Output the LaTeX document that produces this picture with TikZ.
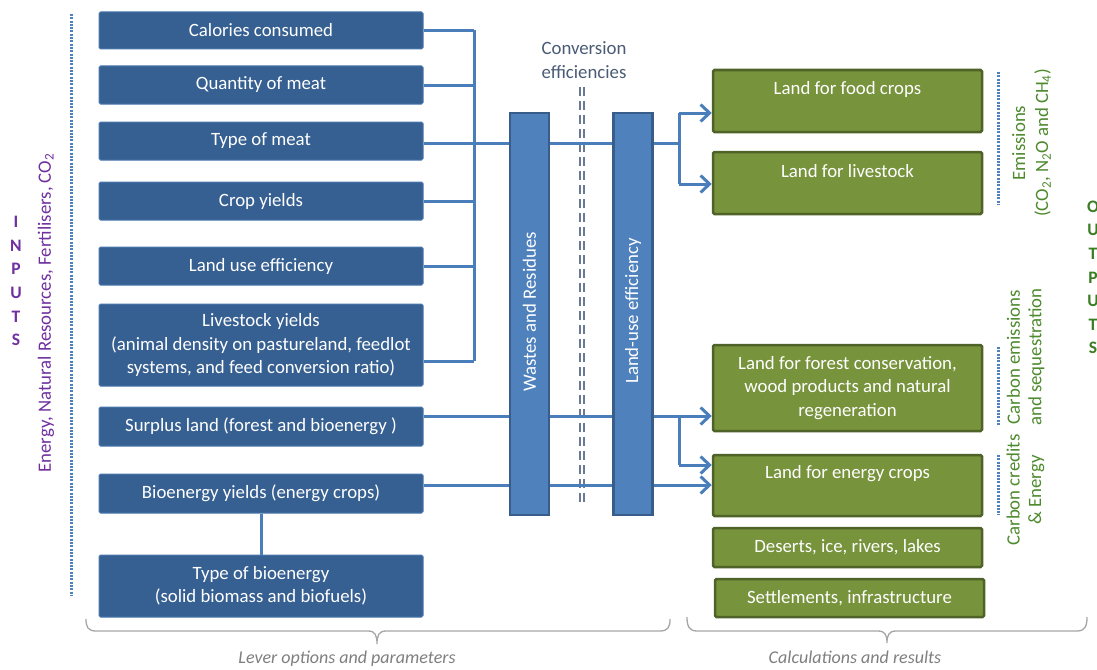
\documentclass[tikz,border=0pt]{standalone}
\usepackage{fontspec}
\setmainfont{Carlito}
\usetikzlibrary{arrows.meta}
\definecolor{lblue}{HTML}{376092}
\definecolor{lbord}{HTML}{4A78B0}
\definecolor{barfill}{HTML}{4F81BD}
\definecolor{barbord}{HTML}{385D8A}
\definecolor{connc}{HTML}{4A7EBB}
\definecolor{gfill}{HTML}{77933C}
\definecolor{gbord}{HTML}{4F6228}
\definecolor{dotc}{HTML}{4F81BD}
\definecolor{purp}{HTML}{7030A0}
\definecolor{outg}{HTML}{3A7D22}
\definecolor{labg}{HTML}{4E8A2E}
\definecolor{convc}{HTML}{4A5B75}
\definecolor{brc}{HTML}{A6A6A6}
\definecolor{brt}{HTML}{7F7F7F}
\definecolor{dashc}{HTML}{6A7A94}
\newcommand\fsA{\fontsize{18.8}{23.5}\selectfont}
\newcommand\fsB{\fontsize{18.8}{21.5}\selectfont}
\newcommand\fsL{\fontsize{17.5}{23.6}\selectfont\bfseries}
\begin{document}
\begin{tikzpicture}[x=1pt,y=-1pt,
  lbox/.style={draw=lbord, fill=lblue, line width=1pt, rounded corners=1.5pt, text=white,
    minimum width=324pt, align=center, font=\fsA, inner sep=0pt},
  gbox/.style={draw=gbord, fill=gfill, line width=2.5pt, rounded corners=1.5pt, text=white,
    minimum width=269pt, align=center, font=\fsA, inner sep=0pt},
  gtext/.style={text=white, align=center, font=\fsA, inner sep=0pt},
  barbox/.style={draw=barbord, fill=barfill, line width=2.5pt, minimum width=39pt, minimum height=402pt, inner sep=0pt},
  bartext/.style={rotate=90, text=white, font=\fsA, inner sep=0pt},
  conn/.style={draw=connc, line width=3pt},
  arr/.style={draw=connc, line width=3pt, -{Straight Barb[length=9pt,width=17pt,line width=3pt]}},
  dots/.style={draw=dotc, line width=3pt, dash pattern=on 2pt off 1.3pt},
  sepline/.style={draw=dashc, line width=1.2pt, dash pattern=on 9pt off 5pt},
  sidetext/.style={rotate=90, text=labg, align=center, font=\fsB, inner sep=0pt},
  brace/.style={draw=brc, line width=1.3pt},
  bracetext/.style={text=brt, font=\fontsize{18}{22}\selectfont\itshape, inner sep=0pt}
]
\useasboundingbox (0,0) rectangle (1097,669);
\clip (0,0) rectangle (1097,669);
\fill[white] (0,0) rectangle (1097,669);

% left boxes
\node[lbox, minimum height=37pt] (cal) at (261,30.5) {Calories consumed};
\node[lbox, minimum height=38pt] (qty) at (261,85) {Quantity of meat};
\node[lbox, minimum height=38pt] (tom) at (261,141) {Type of meat};
\node[lbox, minimum height=38pt] (crop) at (261,201) {Crop yields};
\node[lbox, minimum height=38pt] (luse) at (261,266) {Land use efficiency};
\node[lbox, minimum height=82pt] (live) at (261,345) {Livestock yields\\(animal density on pastureland, feedlot\\systems, and feed conversion ratio)};
\node[lbox, minimum height=39pt] (surp) at (261,426.5) {Surplus land (forest and bioenergy )};
\node[lbox, minimum height=39pt] (bio) at (261,493.5) {Bioenergy yields (energy crops)};
\node[lbox, minimum height=62pt] (tbio) at (261,586) {Type of bioenergy\\(solid biomass and biofuels)};

% green boxes
\node[gbox, minimum height=62pt] (food) at (847.5,101) {};
\node[gtext] (foodt) at ([yshift=12pt]food.center) {Land for food crops};
\node[gbox, minimum height=62pt] (lstk) at (847.5,183) {};
\node[gtext] (lstkt) at ([yshift=12pt]lstk.center) {Land for livestock};
\node[gbox, minimum height=86pt] (forest) at (847.5,388) {Land for forest conservation,\\wood products and natural\\regeneration};
\node[gbox, minimum height=61pt] (energy) at (847.5,485.5) {};
\node[gtext] (energyt) at ([yshift=11.5pt]energy.center) {Land for energy crops};
\node[gbox, minimum height=39pt] (desert) at (847.5,547.5) {Deserts, ice, rivers, lakes};
\node[gbox, minimum height=38pt] (settle) at (849.5,598) {Settlements, infrastructure};

% dashed double separator
\coordinate (dtop) at (582,87);
\coordinate (dbot) at (582,503);
\draw[sepline] ([xshift=-2pt]dtop) -- ([xshift=-2pt]dbot);
\draw[sepline] ([xshift=2pt]dtop) -- ([xshift=2pt]dbot);
\node[text=convc, align=center, font=\fsA, inner sep=0pt] (conv) at (584,60) {Conversion\\efficiencies};

% junction coordinates
\coordinate (bt) at (474,30.5);
\coordinate (bb) at (474,361);
\coordinate (j1) at (474,143);
\coordinate (fm) at (679,143);
\coordinate (f1) at (679,113);
\coordinate (f2) at (679,184);
\coordinate (g1) at (679,416);
\coordinate (g2) at (679,465);
\coordinate (b1) at (679,485);

% connectors
\draw[conn] (cal.east) -- (cal.east -| bt);
\draw[conn] (qty.east) -- (qty.east -| bt);
\draw[conn] (tom.east |- j1) -- (j1);
\draw[conn] (crop.east) -- (crop.east -| bt);
\draw[conn] (luse.east) -- (luse.east -| bt);
\draw[conn] (live.east |- bb) -- (bb);
\draw[conn] (bt) -- (bb);
\draw[conn] (j1) -- (fm);
\draw[conn] (f1) -- (f2);
\draw[arr] (f1) -- (f1 -| food.west);
\draw[arr] (f2) -- (f2 -| lstk.west);
\draw[arr] (surp.east |- g1) -- (g1 -| forest.west);
\draw[conn] (g1) -- (g2);
\draw[arr] (g2) -- (g2 -| energy.west);
\draw[arr] (bio.east |- b1) -- (b1 -| energy.west);
\draw[conn] (bio.south) -- (tbio.north);

% bars
\node[barbox] (waste) at (529.5,314) {};
\node[bartext] (wastet) at (529.5,312) {Wastes and Residues};
\node[barbox] (lue) at (633,314) {};
\node[bartext] (luet) at (633,311) {Land-use efficiency};

% dotted lines
\coordinate (d1a) at (71,14); \coordinate (d1b) at (71,595);
\draw[dots] (d1a) -- (d1b);
\coordinate (d2a) at (998,72); \coordinate (d2b) at (998,205);
\draw[dots] (d2a) -- (d2b);
\coordinate (d3a) at (998,347); \coordinate (d3b) at (998,425);
\draw[dots] (d3a) -- (d3b);
\coordinate (d4a) at (998,455); \coordinate (d4b) at (998,515);
\draw[dots] (d4a) -- (d4b);

% side labels
\node[rotate=90, text=purp, font=\fsA, inner sep=0pt] (res) at (46,313) {Energy, Natural Resources, Fertilisers, CO\textsubscript{2}};
\node[text=purp, font=\fsL, align=center, inner sep=0pt] (inputs) at (16,281) {I\\N\\P\\U\\T\\S};
\node[text=outg, font=\fsL, align=center, inner sep=0pt] (outputs) at (1093,277.5) {O\\U\\T\\P\\U\\T\\S};
\node[sidetext, font=\fontsize{18.8}{23}\selectfont] (emis) at (1031.5,143) {Emissions\\(CO\textsubscript{2}, N\textsubscript{2}O and CH\textsubscript{4})};
\node[sidetext] (carb) at (1025.5,357) {Carbon emissions\\and sequestration};
\node[sidetext] (cred) at (1025.5,490) {Carbon credits\\\& Energy};

% braces
\draw[brace] (86,619) .. controls (86,627) and (88,631) .. (96,631) -- (368,631)
  .. controls (375,631) and (377,635) .. (377,644)
  .. controls (377,635) and (379,631) .. (386,631) -- (660,631)
  .. controls (668,631) and (670,627) .. (670,619);
\node[bracetext] (levt) at (347,659) {Lever options and parameters};
\draw[brace] (687,617) .. controls (687,626) and (689,631) .. (697,631) -- (878,631)
  .. controls (885,631) and (887,635) .. (887,643)
  .. controls (887,635) and (889,631) .. (896,631) -- (1077,631)
  .. controls (1085,631) and (1087,626) .. (1087,617);
\node[bracetext] (calct) at (855,657) {Calculations and results};
\end{tikzpicture}
\end{document}
